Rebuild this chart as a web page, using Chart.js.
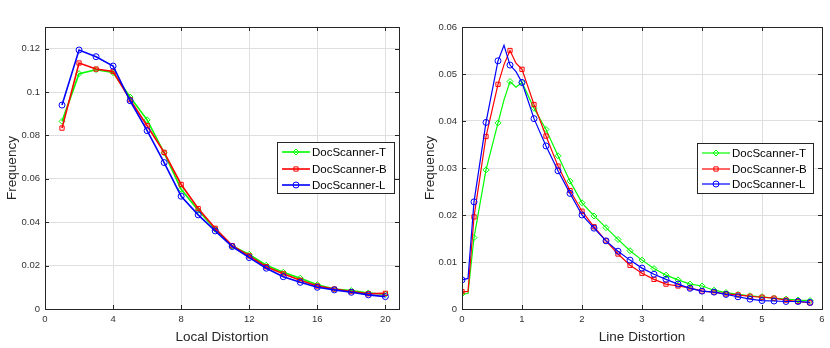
<!DOCTYPE html>
<html>
<head>
<meta charset="utf-8">
<script src="https://cdn.jsdelivr.net/npm/chart.js@4.4.1/dist/chart.umd.min.js"></script>
<style>
    html, body { margin: 0; padding: 0; background: #fff; }
    #wrap { position: relative; width: 830px; height: 348px; }
    canvas { position: absolute; top: 0; }
</style>
</head>
<body>
<div id="wrap">
    <canvas id="leftChart" width="415" height="348" style="left:0"></canvas>
    <canvas id="rightChart" width="415" height="348" style="left:415px"></canvas>
</div>
<script>
// series names
const seriesNames = ['DocScanner-T', 'DocScanner-B', 'DocScanner-L'];

// left panel: local distortion 1..20
const localX = [1, 2, 3, 4, 5, 6, 7, 8, 9, 10, 11, 12, 13, 14, 15, 16, 17, 18, 19, 20];
const localT = [0.0865, 0.1085, 0.1103, 0.109, 0.0977, 0.0872, 0.072, 0.0552, 0.0455, 0.0368,
                0.029, 0.0252, 0.0202, 0.0169, 0.0142, 0.0112, 0.0092, 0.0085, 0.0074, 0.0068];
const localB = [0.0834, 0.1134, 0.1106, 0.1095, 0.0965, 0.0845, 0.0722, 0.0574, 0.0463, 0.0372,
                0.0292, 0.0245, 0.0195, 0.0162, 0.0132, 0.0106, 0.0092, 0.008, 0.007, 0.0072];
const localL = [0.094, 0.1194, 0.1163, 0.112, 0.096, 0.0822, 0.0675, 0.052, 0.0434, 0.036,
                0.0288, 0.0237, 0.0188, 0.0149, 0.0123, 0.01, 0.0088, 0.0077, 0.0065, 0.0057];
const localXTicks = [0, 4, 8, 12, 16, 20];
const localYTicks = [0, 0.02, 0.04, 0.06, 0.08, 0.1, 0.12];

// right panel: line distortion (markers only on the 0.2 grid)
const lineX = [0, 0.1, 0.2, 0.4, 0.6, 0.7, 0.8, 0.9, 1.0, 1.2, 1.4, 1.6, 1.8, 2.0, 2.2, 2.4, 2.6,
               2.8, 3.0, 3.2, 3.4, 3.6, 3.8, 4.0, 4.2, 4.4, 4.6, 4.8, 5.0, 5.2, 5.4, 5.6, 5.8];
const lineT = [0.0032, 0.0033, 0.0152, 0.0296, 0.0396, 0.0445, 0.0484, 0.0472, 0.0482, 0.0427, 0.0382,
               0.0326, 0.0272, 0.0226, 0.0198, 0.0173, 0.0148, 0.0124, 0.0104, 0.0086, 0.0072, 0.0062,
               0.0053, 0.0049, 0.004, 0.0035, 0.0031, 0.0028, 0.0026, 0.0023, 0.0021, 0.0019, 0.0018];
const lineB = [0.0037, 0.0037, 0.0196, 0.0367, 0.0478, 0.052, 0.055, 0.0523, 0.051, 0.0435, 0.0368,
               0.0304, 0.0252, 0.0208, 0.0175, 0.0145, 0.0117, 0.0093, 0.0076, 0.0063, 0.0053, 0.0049,
               0.0045, 0.0038, 0.0036, 0.0032, 0.003, 0.0027, 0.0025, 0.0023, 0.0019, 0.0016, 0.0013];
const lineL = [0.0062, 0.0065, 0.0228, 0.0397, 0.0528, 0.0561, 0.0519, 0.0505, 0.0482, 0.0405, 0.0347,
               0.0294, 0.0246, 0.02, 0.0172, 0.0145, 0.0123, 0.0104, 0.0087, 0.0074, 0.0063, 0.0053,
               0.0044, 0.0038, 0.0036, 0.0031, 0.0026, 0.0021, 0.0018, 0.0017, 0.0016, 0.0016, 0.0014];
const lineXTicks = [0, 1, 2, 3, 4, 5, 6];
const lineYTicks = [0, 0.01, 0.02, 0.03, 0.04, 0.05, 0.06];

const colors = ['#00ff00', '#ff0000', '#0000ff'];
const markers = ['rectRot', 'rect', 'circle'];
const FONT = "'Liberation Sans', Arial, sans-serif";
const AXIS = '#262626';

// box + inward ticks on all four sides, like a matlab axes
const boxPlugin = {
    id: 'boxPlugin',
    afterDatasetsDraw(chart) {
        const { ctx, chartArea: a, scales } = chart;
        ctx.save();
        ctx.strokeStyle = AXIS;
        ctx.lineWidth = 1;
        ctx.strokeRect(Math.round(a.left) + 0.5, Math.round(a.top) + 0.5,
                       Math.round(a.right - a.left), Math.round(a.bottom - a.top));
        ctx.beginPath();
        scales.x.ticks.forEach(t => {
            const px = Math.round(scales.x.getPixelForValue(t.value)) + 0.5;
            ctx.moveTo(px, a.bottom); ctx.lineTo(px, a.bottom - 4);
            ctx.moveTo(px, a.top); ctx.lineTo(px, a.top + 4);
        });
        scales.y.ticks.forEach(t => {
            const py = Math.round(scales.y.getPixelForValue(t.value)) + 0.5;
            ctx.moveTo(a.left, py); ctx.lineTo(a.left + 4, py);
            ctx.moveTo(a.right, py); ctx.lineTo(a.right - 4, py);
        });
        ctx.stroke();
        ctx.restore();
    }
};

// legend drawn inside the plot area
const insideLegend = {
    id: 'insideLegend',
    afterDraw(chart, args, opts) {
        const { ctx, chartArea } = chart;
        const x = Math.round(chartArea.right - opts.right - opts.width);
        const y = opts.top;
        ctx.save();
        ctx.fillStyle = '#fff';
        ctx.fillRect(x, y, opts.width, opts.height);
        ctx.strokeStyle = AXIS;
        ctx.lineWidth = 1;
        ctx.strokeRect(x + 0.5, y + 0.5, opts.width, opts.height);
        ctx.font = '11.5px ' + FONT;
        ctx.textBaseline = 'middle';
        opts.rows.forEach((ry, i) => {
            const cy = y + ry;
            ctx.strokeStyle = colors[i];
            ctx.lineWidth = opts.lineWidth;
            ctx.beginPath();
            ctx.moveTo(x + 5, cy); ctx.lineTo(x + 33, cy);
            ctx.stroke();
            ctx.fillStyle = 'rgba(0,0,0,0)';
            ctx.lineWidth = 1;
            Chart.helpers.drawPoint(ctx, { pointStyle: markers[i], radius: 3, borderWidth: 1, rotation: 0 }, x + 19, cy);
            ctx.fillStyle = '#000';
            ctx.fillText(seriesNames[i], x + 35, cy + 0.5);
        });
        ctx.restore();
    }
};

const makeChart = (id, xs, series, o) => {
    const ctx = document.getElementById(id).getContext('2d');
    return new Chart(ctx, {
        type: 'line',
        data: {
            datasets: series.map((vals, i) => ({
                label: seriesNames[i],
                data: vals.map((v, k) => ({ x: xs[k], y: v })),
                borderColor: colors[i],
                backgroundColor: 'rgba(0,0,0,0)',
                pointBorderColor: colors[i],
                pointBackgroundColor: 'rgba(0,0,0,0)',
                borderWidth: o.lineWidth,
                pointBorderWidth: 1,
                pointStyle: markers[i],
                pointRadius: xs.map(v => o.markerAt(v) ? 3 : 0),
                tension: 0,
                order: 3 - i
            }))
        },
        options: {
            responsive: false,
            animation: false,
            events: [],
            layout: { padding: { top: 27, right: o.padRight, left: 0, bottom: 0 } },
            plugins: {
                legend: { display: false },
                tooltip: { enabled: false },
                insideLegend: o.legend
            },
            scales: {
                x: {
                    type: 'linear',
                    min: o.xMin, max: o.xMax,
                    afterBuildTicks: s => { s.ticks = o.xTicks.map(v => ({ value: v })); },
                    afterFit: s => { s.height = 39; },
                    grid: { color: '#dfdfdf', drawTicks: false },
                    border: { display: false },
                    ticks: { color: '#333', font: { family: FONT, size: 9.5 }, padding: 5, maxRotation: 0,
                             callback: v => String(v) },
                    title: { display: true, text: o.xTitle, color: AXIS, font: { family: FONT, size: 13.5 },
                             padding: { top: 0, bottom: 3 } }
                },
                y: {
                    type: 'linear',
                    min: 0, max: o.yMax,
                    afterBuildTicks: s => { s.ticks = o.yTicks.map(v => ({ value: v })); },
                    afterFit: s => { s.width = o.yWidth; },
                    grid: { color: '#dfdfdf', drawTicks: false },
                    border: { display: false },
                    ticks: { color: '#333', font: { family: FONT, size: 9.5 }, padding: 5,
                             callback: v => String(v) },
                    title: { display: true, text: 'Frequency', color: AXIS, font: { family: FONT, size: 13.5 },
                             padding: { top: o.yTitlePad, bottom: 0 } }
                }
            }
        },
        plugins: [boxPlugin, insideLegend]
    });
};

makeChart('leftChart', localX, [localT, localB, localL], {
    lineWidth: 1.6,
    markerAt: () => true,
    xMin: 0, xMax: 20.8, xTicks: localXTicks,
    yMax: 0.13, yTicks: localYTicks,
    xTitle: 'Local Distortion',
    padRight: 16, yWidth: 45, yTitlePad: 4,
    legend: { width: 117, height: 51, right: 5, top: 142, rows: [10, 27, 43], lineWidth: 1.6 }
});

makeChart('rightChart', lineX, [lineT, lineB, lineL], {
    lineWidth: 1.2,
    markerAt: v => Math.abs(v * 5 - Math.round(v * 5)) < 1e-6,
    xMin: 0, xMax: 6, xTicks: lineXTicks,
    yMax: 0.06, yTicks: lineYTicks,
    xTitle: 'Line Distortion',
    padRight: 8, yWidth: 47, yTitlePad: 7,
    legend: { width: 116, height: 50, right: 9, top: 143, rows: [10, 26, 41], lineWidth: 1.2 }
});
</script>
</body>
</html>
